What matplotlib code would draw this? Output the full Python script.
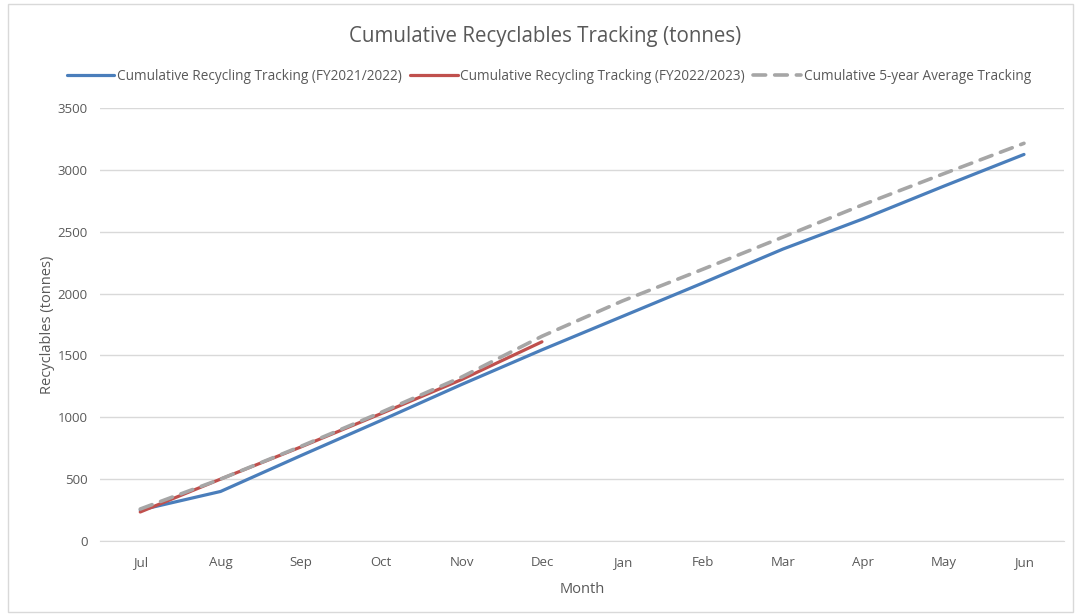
import matplotlib
matplotlib.use("Agg")
import matplotlib.pyplot as plt
from matplotlib.patches import Rectangle

months = ["Jul", "Aug", "Sep", "Oct", "Nov", "Dec", "Jan", "Feb", "Mar", "Apr", "May", "Jun"]
fy2122 = [250, 400, 690, 975, 1265, 1545, 1815, 2085, 2360, 2605, 2868, 3125]
fy2223 = [234, 500, 760, 1030, 1305, 1610]
avg5 = [258, 500, 765, 1040, 1325, 1655, 1940, 2196, 2457, 2720, 2969, 3215]
yticks = [0, 500, 1000, 1500, 2000, 2500, 3000, 3500]

plt.rcParams['font.family'] = ['Open Sans', 'DejaVu Sans']
txt = '#595959'

fig = plt.figure(figsize=(10.76, 6.14), dpi=100)
ax = fig.add_axes([0.093, 0.119, 0.896, 0.705])

x = list(range(len(months)))
ax.plot(x, fy2122, color='#4a7ebb', lw=2.3, solid_capstyle='round',
        label='Cumulative Recycling Tracking (FY2021/2022)', zorder=3)
ax.plot(x[:len(fy2223)], fy2223, color='#c0504d', lw=2.3, solid_capstyle='round',
        label='Cumulative Recycling Tracking (FY2022/2023)', zorder=4)
ax.plot(x, avg5, color='#a6a6a6', lw=2.6, dashes=(3.5, 2.5), dash_capstyle='round',
        label='Cumulative 5-year Average Tracking', zorder=5)

ax.set_xlim(-0.5, len(months) - 0.5)
ax.set_ylim(0, 3500)
ax.set_xticks(x)
ax.set_xticklabels(months)
ax.set_yticks(yticks)
ax.grid(axis='y', color='#d9d9d9', lw=1)
ax.set_axisbelow(True)
for s in ['top', 'right', 'left']:
    ax.spines[s].set_visible(False)
ax.spines['bottom'].set_color('#d9d9d9')
ax.tick_params(axis='both', length=0, colors=txt, labelsize=9.5, pad=11)
ax.tick_params(axis='y', pad=9)
ax.set_xlabel('Month', color=txt, fontsize=10.5, labelpad=9)
ax.set_ylabel('Recyclables (tonnes)', color=txt, fontsize=10.5, labelpad=2)

fig.text(0.507, 0.94, 'Cumulative Recyclables Tracking (tonnes)', ha='center', va='center',
         fontsize=14.8, color=txt)
leg = fig.legend(loc='center', bbox_to_anchor=(0.51, 0.876), ncol=3, frameon=False,
                 fontsize=9.8, handlelength=3.5, handletextpad=0.2, columnspacing=0.6)
for t in leg.get_texts():
    t.set_color(txt)

fig.patches.append(Rectangle((0.007, 0.004), 0.99, 0.99, transform=fig.transFigure,
                             fill=False, edgecolor='#d9d9d9', lw=1))

fig.savefig('out.png', dpi=100, facecolor='white')
